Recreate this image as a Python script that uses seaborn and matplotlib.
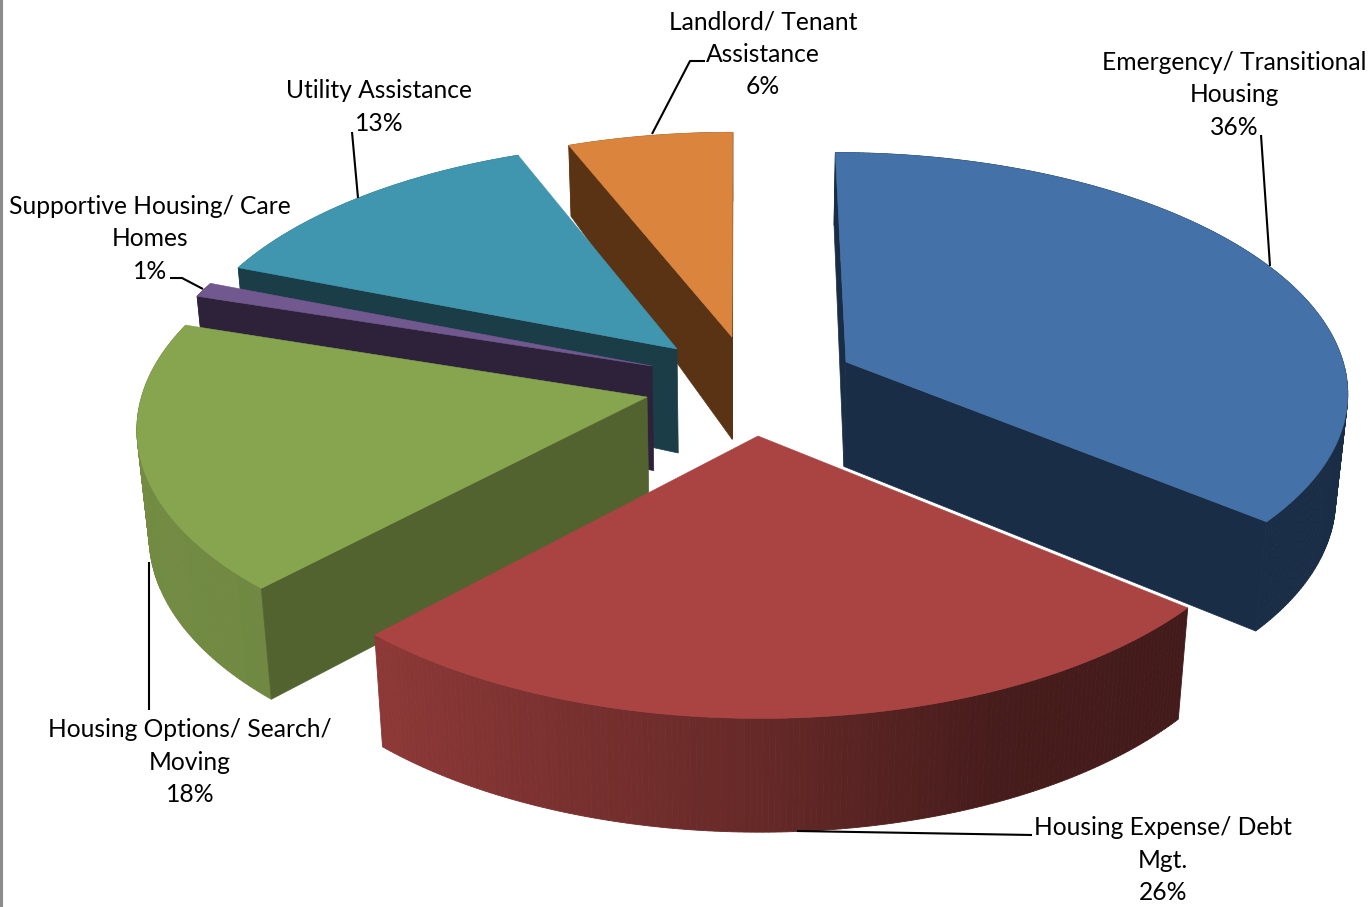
import numpy as np
import matplotlib
matplotlib.use("Agg")
import matplotlib.pyplot as plt
import seaborn as sns

categories = ["Emergency/ Transitional\nHousing", "Housing Expense/ Debt\nMgt.",
              "Housing Options/ Search/\nMoving", "Supportive Housing/ Care\nHomes",
              "Utility Assistance", "Landlord/ Tenant\nAssistance"]
shares = [36, 26, 18, 1, 13, 6]
top_colors = ["#4472A8", "#A94442", "#87A44E", "#71588F", "#3F96AE", "#DB843D"]
wall_colors = ["#1A2D46", "#45191A", "#53632F", "#2D2239", "#1A3D47", "#5A3315"]
# screen position of each exploded slice's apex
apexes = [(846, 362), (758, 436), (647, 397), (652, 366), (677, 349), (732, 337)]
label_xy = [(1234, 95), (1163, 860), (190, 762), (150, 239), (379, 107), (763, 54)]
leaders = [[(1270, 266), (1261, 135)], [(797, 831), (1032, 835)], [(149, 562), (149, 710)],
           [(203, 289), (182, 278), (170, 278)], [(358, 198), (352, 132)],
           [(652, 134), (690, 61), (705, 61)]]
draw_order = [5, 4, 3, 2, 0, 1]

CX, CY, RX, RY, K, ZS = 740.0, 420.0, 511.0, 246.0, 0.115, 0.00019

sns.set_theme(style="white")
plt.rcParams["font.family"] = ["Lato", "DejaVu Sans"]
fig, ax = plt.subplots(figsize=(13.72, 9.07), dpi=100)
ax.set_position([0, 0, 1, 1])
ax.set_xlim(0, 1372)
ax.set_ylim(907, 0)
ax.axis("off")
palette = sns.color_palette(top_colors)
walls = sns.color_palette(wall_colors)


def world_of(px, py):
    u, v = (px - CX) / RX, (CY - py) / RY
    Y = v / (1 - K * v)
    return u * (1 + K * Y), Y


def depth(Y):
    return np.interp(Y, [-1.1, -0.5, 0.3, 1.4], [114, 110, 104, 67])


def project(X, Y, top=True):
    w = 1 + K * Y
    sx = CX + RX * X / w
    sy = CY - RY * Y / w
    if top:
        return sx, sy
    d = depth(Y)
    return CX + (sx - CX) * (1 - ZS * d), sy + d


def shade(theta):
    return np.interp(np.sin(theta), [-1, -0.68, 0, 0.4, 1], [0.85, 0.83, 0.6, 0.42, 0.38])


edges = np.cumsum([0] + shares) / sum(shares) * 2 * np.pi
viewer = np.array([0.0, -1.0 / K])
for rank, i in enumerate(draw_order):
    ax0, ay0 = world_of(*apexes[i])
    th = np.linspace(edges[i], edges[i + 1], max(8, shares[i] * 6))
    X = ax0 + np.sin(th)
    Y = ay0 + np.cos(th)
    tx, ty = project(X, Y)
    bx, by = project(X, Y, top=False)
    a_t = project(ax0, ay0)
    a_b = project(ax0, ay0, top=False)
    z = 10 + 3 * rank
    for j in range(len(th) - 1):
        c = np.array(palette[i]) * shade(0.5 * (th[j] + th[j + 1]))
        if i == 0:
            c = np.array(walls[i])
        ax.fill([tx[j], tx[j + 1], bx[j + 1], bx[j]], [ty[j], ty[j + 1], by[j + 1], by[j]],
                color=tuple(c), lw=0.6, zorder=z)
    to_view = viewer - np.array([ax0, ay0])
    normals = {0: np.array([-np.cos(th[0]), np.sin(th[0])]),
               -1: np.array([np.cos(th[-1]), -np.sin(th[-1])])}
    for j, n in normals.items():
        if n @ to_view > 0:
            ax.fill([a_t[0], tx[j], bx[j], a_b[0]], [a_t[1], ty[j], by[j], a_b[1]],
                    color=walls[i], lw=0.5, zorder=z + 1)
    ax.fill(np.r_[a_t[0], tx], np.r_[a_t[1], ty], color=palette[i], lw=0.4, zorder=z + 2)

for name, val, (x, y), pts in zip(categories, shares, label_xy, leaders):
    ax.text(x, y, f"{name}\n{val}%", ha="center", va="center", fontsize=17.7,
            color="black", linespacing=1.5, zorder=40)
    ax.plot(*zip(*pts), color="black", lw=1.5, zorder=41, solid_capstyle="butt")

ax.plot([1, 1], [0, 907], color="#8C8C8C", lw=2.2, zorder=50)
fig.savefig("out.png", dpi=100, facecolor="white")
